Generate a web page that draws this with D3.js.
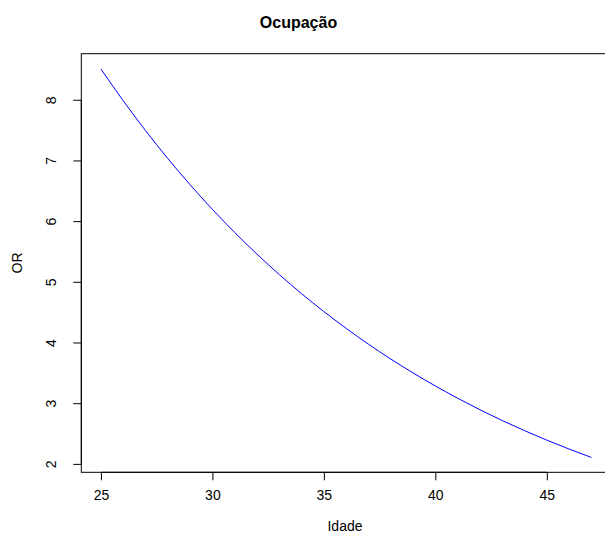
<!DOCTYPE html>
<html>
<head>
<meta charset="utf-8">
<script src="https://cdn.jsdelivr.net/npm/d3@7"></script>
<style>
  html, body { margin: 0; padding: 0; background: #fff; }
  svg { display: block; }
  text { font-family: "Liberation Sans", Arial, Helvetica, sans-serif; fill: #000; }
</style>
</head>
<body>
<svg id="chart" width="605" height="536"></svg>
<script>
// Data
const ages = [25, 26, 27, 28, 29, 30, 31, 32, 33, 34, 35, 36, 37, 38, 39, 40, 41, 42, 43, 44, 45, 46, 47];
const orValues = [8.507, 7.984, 7.493, 7.032, 6.600, 6.194, 5.813, 5.456, 5.120, 4.805, 4.510,
                  4.233, 3.972, 3.728, 3.499, 3.284, 3.082, 2.892, 2.714, 2.548, 2.391, 2.244, 2.106];
const xTicks = [25, 30, 35, 40, 45];
const yTicks = [2, 3, 4, 5, 6, 7, 8];
const titleText = "Ocupação";
const xLabel = "Idade";
const yLabel = "OR";

const svg = d3.select("#chart");
const box = { left: 81.3, right: 611, top: 53.7, bottom: 472.3 };

const x = d3.scaleLinear().domain([24.12, 47.88]).range([box.left, box.right]);
const y = d3.scaleLinear().domain([1.861, 8.759]).range([box.bottom, box.top]);

// plot box
svg.append("rect")
  .attr("x", box.left).attr("y", box.top)
  .attr("width", box.right - box.left).attr("height", box.bottom - box.top)
  .attr("fill", "none").attr("stroke", "#000").attr("stroke-width", 1);

// x axis
const xAxis = d3.axisBottom(x).tickValues(xTicks).tickFormat(d3.format("d"))
  .tickSize(8).tickPadding(10).tickSizeOuter(0);
const gx = svg.append("g").attr("transform", `translate(0,${box.bottom})`).call(xAxis);
gx.select(".domain").attr("d", `M${x(xTicks[0])},0H${x(xTicks[xTicks.length-1])}`);
gx.selectAll("text").attr("font-size", 14).attr("font-family", "Liberation Sans, Arial, sans-serif");

// y axis
const yAxis = d3.axisLeft(y).tickValues(yTicks).tickFormat(d3.format("d"))
  .tickSize(8).tickPadding(0).tickSizeOuter(0);
const gy = svg.append("g").attr("transform", `translate(${box.left},0)`).call(yAxis);
gy.select(".domain").attr("d", `M0,${y(yTicks[0])}V${y(yTicks[yTicks.length-1])}`);
gy.selectAll(".tick text")
  .attr("font-size", 14).attr("font-family", "Liberation Sans, Arial, sans-serif")
  .attr("x", null).attr("dy", null)
  .attr("text-anchor", "middle")
  .attr("transform", "translate(-30,0) rotate(-90)")
  .attr("y", 0).attr("dy", "0.35em");

// line
const line = d3.line()
  .x((d, i) => x(ages[i]))
  .y(d => y(d))
  .curve(d3.curveMonotoneX);
svg.append("path")
  .datum(orValues)
  .attr("d", line)
  .attr("fill", "none")
  .attr("stroke", "#0000ff")
  .attr("stroke-width", 1);

// title
svg.append("text")
  .attr("x", 298.5).attr("y", 27.5)
  .attr("text-anchor", "middle")
  .attr("font-size", 16).attr("font-weight", "bold")
  .text(titleText);

// x label
svg.append("text")
  .attr("x", 345).attr("y", 531)
  .attr("text-anchor", "middle")
  .attr("font-size", 14)
  .text(xLabel);

// y label
svg.append("text")
  .attr("transform", `translate(22,${(box.top + box.bottom) / 2}) rotate(-90)`)
  .attr("text-anchor", "middle")
  .attr("font-size", 14)
  .text(yLabel);
</script>
</body>
</html>
